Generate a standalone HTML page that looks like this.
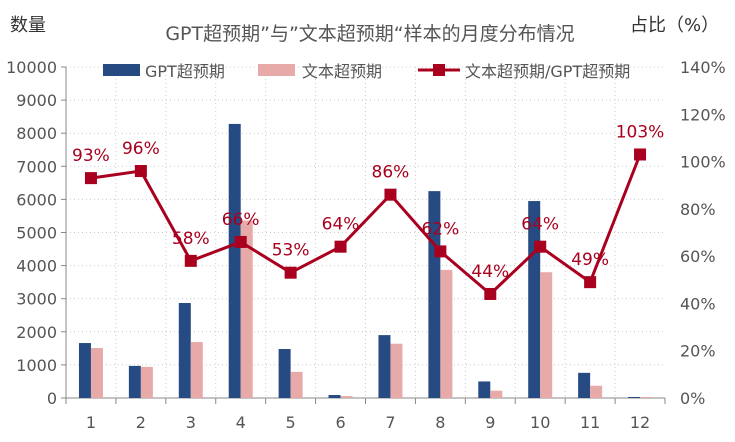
<!DOCTYPE html>
<html><head><meta charset="utf-8"><style>
body{margin:0;background:#fff;font-family:"DejaVu Sans","Noto Sans CJK SC",sans-serif;}
svg text{font-family:"DejaVu Sans","Noto Sans CJK SC",sans-serif;}
</style></head><body>
<svg id="c" width="735" height="438" viewBox="0 0 735 438"></svg>
<script>
const categories=["1","2","3","4","5","6","7","8","9","10","11","12"];
const gptValues=[1660,970,2870,8280,1480,90,1900,6250,500,5950,760,30];
const textValues=[1510,940,1690,5360,790,58,1640,3870,220,3800,370,31];
const ratioValues=[93,96,58,66,53,64,86,62,44,64,49,103];
const leftTicks=[0,1000,2000,3000,4000,5000,6000,7000,8000,9000,10000];
const rightTicks=[0,20,40,60,80,100,120,140];
const NS="http://www.w3.org/2000/svg";
const svg=document.getElementById('c');
const X0=66,X1=665,Y0=398,Y1=67;
const step=(X1-X0)/categories.length;
const xc=i=>X0+step*(i+0.5);
const yL=v=>Y0-(v/10000)*(Y0-Y1);
const yR=v=>Y0-(v/140)*(Y0-Y1);
function mk(tag,attrs,parent){const e=document.createElementNS(NS,tag);for(const k in attrs)e.setAttribute(k,attrs[k]);(parent||svg).appendChild(e);return e;}
function txt(s,attrs){const t=mk('text',attrs);t.textContent=s;return t;}
leftTicks.forEach(v=>{if(v>0){const l=mk('line',{x1:X0,x2:X1,y1:yL(v),y2:yL(v),stroke:'#ccc','stroke-dasharray':'1,3'});

}});
for(let i=1;i<categories.length;i++){const x=X0+step*i;const l=mk('line',{x1:x,x2:x,y1:Y1,y2:Y0,stroke:'#ccc','stroke-dasharray':'1,3'});

}
const la=mk('line',{x1:X0,x2:X0,y1:Y1,y2:Y0,stroke:'#888'});


const ba=mk('line',{x1:X0,x2:X1,y1:Y0,y2:Y0,stroke:'#888'});


leftTicks.forEach(v=>{mk('line',{x1:X0-5,x2:X0,y1:yL(v),y2:yL(v),stroke:'#888'});
const t=txt(String(v),{x:X0-9,y:yL(v)+6,'text-anchor':'end','font-size':16,fill:'#555'});

});
rightTicks.forEach(v=>{const t=txt(v+'%',{x:X1+15,y:yR(v)+6,'font-size':16,fill:'#555'});

});
for(let i=0;i<=categories.length;i++){const x=X0+step*i;mk('line',{x1:x,x2:x,y1:Y0,y2:Y0+6,stroke:'#888'});}
categories.forEach((c,i)=>{const t=txt(c,{x:xc(i),y:Y0+30,'text-anchor':'middle','font-size':16,fill:'#555'});

});
categories.forEach((c,i)=>{
const b=mk('rect',{x:xc(i)-12,y:yL(gptValues[i]),width:12,height:Y0-yL(gptValues[i]),fill:'#264a82'});


const p=mk('rect',{x:xc(i),y:yL(textValues[i]),width:12,height:Y0-yL(textValues[i]),fill:'#e8a9a9'});

});
const pts=ratioValues.map((v,i)=>xc(i)+','+yR(v)).join(' ');
const pl=mk('polyline',{points:pts,fill:'none',stroke:'#a8001e','stroke-width':3});


ratioValues.forEach((v,i)=>{const m=mk('rect',{x:xc(i)-6,y:yR(v)-6,width:12,height:12,fill:'#a8001e'});


const t=txt(v+'%',{x:xc(i),y:yR(v)-17,'text-anchor':'middle','font-size':17,fill:'#a8001e'});

});
const tt=txt('GPT超预期”与”文本超预期“样本的月度分布情况',{x:370,y:40,'text-anchor':'middle','font-size':19,fill:'#555'});


const yl=txt('数量',{x:10,y:31,'font-size':18,fill:'#333'});


const yr=txt('占比（%）',{x:630,y:31,'font-size':18,fill:'#333'});


const l1=mk('rect',{x:103,y:64,width:37,height:12,fill:'#264a82'});


const lt1=txt('GPT超预期',{x:145,y:77,'font-size':16,fill:'#555'});


const l2=mk('rect',{x:258,y:64,width:37,height:12,fill:'#e8a9a9'});


const lt2=txt('文本超预期',{x:302,y:77,'font-size':16,fill:'#555'});


mk('line',{x1:418,x2:460,y1:70,y2:70,stroke:'#a8001e','stroke-width':3});
const l3=mk('rect',{x:433,y:64,width:12,height:12,fill:'#a8001e'});


const lt3=txt('文本超预期/GPT超预期',{x:465,y:77,'font-size':16,fill:'#555'});


</script>
</body></html>
